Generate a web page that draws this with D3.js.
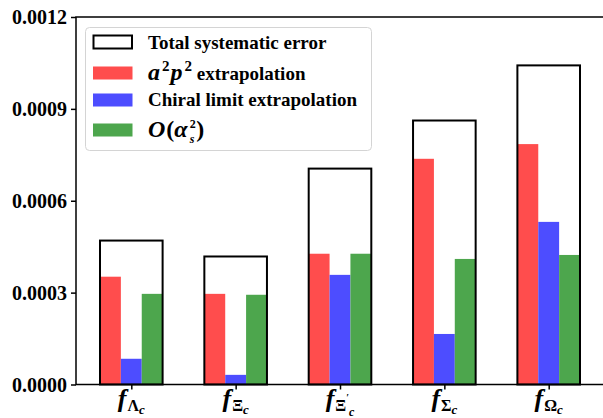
<!DOCTYPE html>
<html lang="en">
<head>
    <meta charset="UTF-8">
    <title>Systematic errors</title>
    <script src="https://d3js.org/d3.v7.min.js"></script>
    <style>
        body {
            margin: 0;
            background: #fff;
        }
        svg text {
            font-family: "Liberation Serif", "Times New Roman", serif;
            font-weight: bold;
        }
    </style>
</head>
<body>
    <div id="chart"></div>
    <script>
        // Values
        const categories = ["Λ", "Ξ", "Ξ", "Σ", "Ω"];
        const primed = [false, false, true, false, false];
        const totalErr = [0.000470, 0.000418, 0.000705, 0.000862, 0.001042];
        const a2p2Err = [0.000352, 0.000296, 0.000427, 0.000737, 0.000785];
        const chiralErr = [0.0000840, 0.0000315, 0.000358, 0.000165, 0.000531];
        const alphaErr = [0.000296, 0.000293, 0.000427, 0.000410, 0.000423];
        const yTicks = [0, 0.0003, 0.0006, 0.0009, 0.0012];
        const yTickLabels = ["0.0000", "0.0003", "0.0006", "0.0009", "0.0012"];

        const width = 603;
        const height = 418;
        const margin = {left: 76, right: 0, top: 17, bottom: 33.5};

        const svg = d3.select("#chart")
            .append("svg")
            .attr("width", width)
            .attr("height", height);

        const x = d3.scaleLinear()
            .domain([-0.53, 4.53])
            .range([margin.left, width - margin.right + 1]);
        const y = d3.scaleLinear()
            .domain([0, 0.0012])
            .range([height - margin.bottom, margin.top]);

        const barW = 0.2;
        const series = [
            {vals: a2p2Err, color: "rgb(255,77,77)", off: -1},
            {vals: chiralErr, color: "rgb(77,77,255)", off: 0},
            {vals: alphaErr, color: "rgb(77,166,77)", off: 1}
        ];

        // coloured bars
        series.forEach(s => {
            svg.append("g")
                .selectAll("rect")
                .data(s.vals)
                .enter().append("rect")
                .attr("x", (d, i) => x(i + s.off * barW - barW / 2))
                .attr("width", x(barW) - x(0))
                .attr("y", d => y(d))
                .attr("height", d => y(0) - y(d))
                .attr("fill", s.color);
        });

        // total systematic error outline boxes
        svg.append("g")
            .selectAll("rect")
            .data(totalErr)
            .enter().append("rect")
            .attr("x", (d, i) => x(i - 1.5 * barW))
            .attr("width", x(3 * barW) - x(0))
            .attr("y", d => y(d))
            .attr("height", d => y(0) - y(d))
            .attr("fill", "none")
            .attr("stroke", "#000")
            .attr("stroke-width", 2);

        // axes
        const yAxis = d3.axisLeft(y)
            .tickValues(yTicks)
            .tickFormat((d, i) => yTickLabels[i])
            .tickSize(5)
            .tickPadding(4);
        const gy = svg.append("g")
            .attr("transform", `translate(${margin.left},0)`)
            .call(yAxis);
        gy.select(".domain").remove();
        gy.selectAll("line").attr("stroke", "#000").attr("stroke-width", 1.5);
        gy.selectAll("text")
            .attr("font-size", 20)
            .attr("fill", "#000")
            .attr("dy", "0.34em");

        const xAxis = d3.axisBottom(x)
            .tickValues(d3.range(categories.length))
            .tickFormat("")
            .tickSize(5);
        const gx = svg.append("g")
            .attr("transform", `translate(0,${y(0)})`)
            .call(xAxis);
        gx.select(".domain").remove();
        gx.selectAll("line").attr("stroke", "#000").attr("stroke-width", 1.5);

        // spines
        svg.append("rect")
            .attr("x", margin.left)
            .attr("y", y(0.0012))
            .attr("width", x.range()[1] - margin.left)
            .attr("height", y(0) - y(0.0012))
            .attr("fill", "none")
            .attr("stroke", "#000")
            .attr("stroke-width", 1.5);

        // x tick labels: f_{Greek_c}
        categories.forEach((g, i) => {
            const t = svg.append("text")
                .attr("x", x(i))
                .attr("y", 407)
                .attr("text-anchor", "middle")
                .attr("fill", "#000");
            t.append("tspan")
                .attr("font-style", "italic")
                .attr("font-size", 26)
                .text("f");
            t.append("tspan")
                .attr("font-size", 16)
                .attr("dx", 1)
                .attr("dy", 4)
                .text(g);
            if (primed[i]) {
                t.append("tspan")
                    .attr("font-size", 10)
                    .attr("dy", -10)
                    .text("′");
                t.append("tspan")
                    .attr("font-style", "italic")
                    .attr("font-size", 12)
                    .attr("dx", 0)
                    .attr("dy", 15)
                    .text("c");
            } else {
                t.append("tspan")
                    .attr("font-style", "italic")
                    .attr("font-size", 13)
                    .attr("dy", 3)
                    .text("c");
            }
        });

        // legend
        const legend = svg.append("g");
        legend.append("rect")
            .attr("x", 85.5)
            .attr("y", 27.5)
            .attr("width", 286)
            .attr("height", 123)
            .attr("rx", 4)
            .attr("fill", "#fff")
            .attr("fill-opacity", 0.8)
            .attr("stroke", "#d4d4d4")
            .attr("stroke-width", 1);

        const legendRows = [42, 73, 100, 130];
        const legendFills = ["none", series[0].color, series[1].color, series[2].color];
        legendRows.forEach((cy, i) => {
            legend.append("rect")
                .attr("x", i === 0 ? 93.5 : 93)
                .attr("y", cy - 6.5)
                .attr("width", i === 0 ? 38.5 : 39.5)
                .attr("height", 13)
                .attr("fill", legendFills[i])
                .attr("stroke", i === 0 ? "#000" : "none")
                .attr("stroke-width", 2);
        });

        const lx = 148;
        legend.append("text")
            .attr("x", lx).attr("y", 49)
            .attr("font-size", 19)
            .text("Total systematic error");

        const t2 = legend.append("text")
            .attr("x", lx).attr("y", 80)
            .attr("font-size", 19);
        t2.append("tspan").attr("font-style", "italic").attr("font-size", 24).text("a");
        t2.append("tspan").attr("font-size", 15).attr("dy", -9).attr("dx", 2).text("2");
        t2.append("tspan").attr("font-style", "italic").attr("font-size", 24).attr("dy", 9).attr("dx", 1).text("p");
        t2.append("tspan").attr("font-size", 15).attr("dy", -9).attr("dx", 2).text("2");
        t2.append("tspan").attr("dy", 9).text(" extrapolation");

        legend.append("text")
            .attr("x", lx).attr("y", 106)
            .attr("font-size", 19)
            .text("Chiral limit extrapolation");

        const t4 = legend.append("text")
            .attr("x", lx).attr("y", 137)
            .attr("font-size", 24);
        t4.append("tspan").attr("font-style", "italic").text("O");
        t4.append("tspan").attr("dx", 1).text("(");
        t4.append("tspan").attr("font-style", "italic").text("α");
        t4.append("tspan").attr("font-size", 12).attr("dy", -9).attr("dx", 2).text("2");
        t4.append("tspan").attr("font-style", "italic").attr("font-size", 12).attr("dx", -6).attr("dy", 15).text("s");
        t4.append("tspan").attr("dx", 2).attr("dy", -6).text(")");
    </script>
</body>
</html>
